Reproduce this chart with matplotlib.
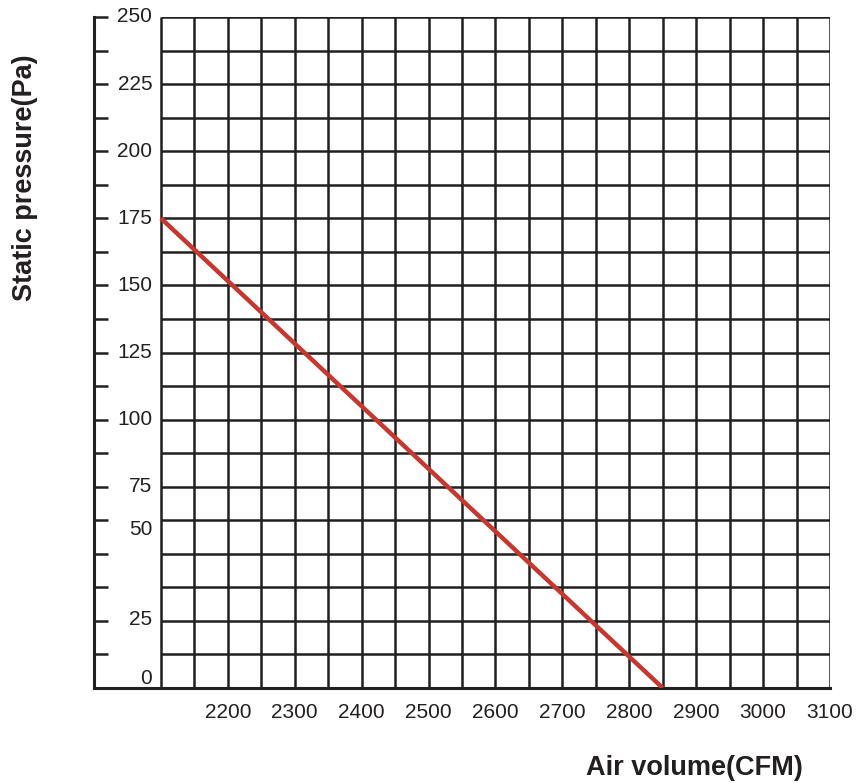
import numpy as np
import matplotlib.pyplot as plt

plt.rcParams['font.family'] = ['Liberation Sans', 'DejaVu Sans']

# curve data
air_volume = [2100, 2850]
static_pressure = [175, 0]

x_ticks = [2200, 2300, 2400, 2500, 2600, 2700, 2800, 2900, 3000, 3100]
y_labels = [250, 225, 200, 175, 150, 125, 100, 75, 50, 25, 0]
y_minor = np.arange(0, 251, 12.5)
x_grid = np.arange(2100, 3101, 50)

fig = plt.figure(figsize=(8.59, 7.83), dpi=100)
ax = fig.add_axes([94/859, 95/783, 736/859, 671/783])
ax.set_xlim(2000, 3100)
ax.set_ylim(0, 250)

ink = '#231f20'
# grid only over the chart part
ax.hlines(y_minor, 2100, 3100, color=ink, lw=1.8, zorder=1)
ax.vlines(x_grid, 0, 250, color=ink, lw=1.8, zorder=1)

ax.plot(air_volume, static_pressure, color='#c8372d', lw=3.2, zorder=3,
        solid_capstyle='butt')

for s in ['top', 'right']:
    ax.spines[s].set_visible(False)
ax.spines['left'].set_linewidth(2.2)
ax.spines['bottom'].set_linewidth(2.2)
ax.spines['left'].set_color(ink)
ax.spines['bottom'].set_color(ink)

ax.set_yticks(y_minor)
ax.set_yticklabels([])
ax.tick_params(axis='y', direction='in', length=10, width=1.8, color=ink)
ax.set_xticks([])

# y labels sit inside the left axis; 50 and 0 are off their ticks in the source
shift = {50: 8.9, 25: 0.7, 0: 3.7}
for v in y_labels:
    ax.text(2087, v + shift.get(v, 0), str(v), ha='right', va='center',
            fontsize=15, color=ink)

for v in x_ticks:
    ax.text(v, -9, str(v), ha='center', va='center', fontsize=15, color=ink)

fig.text(694/859, 1 - 768/783, 'Air volume(CFM)', ha='center', va='center',
         fontsize=19.5, fontweight='bold', color=ink)
fig.text(25/859, 1 - 178/783, 'Static pressure(Pa)', ha='center', va='center',
         rotation=90, fontsize=19.5, fontweight='bold', color=ink)

fig.savefig('out.png', dpi=100)
